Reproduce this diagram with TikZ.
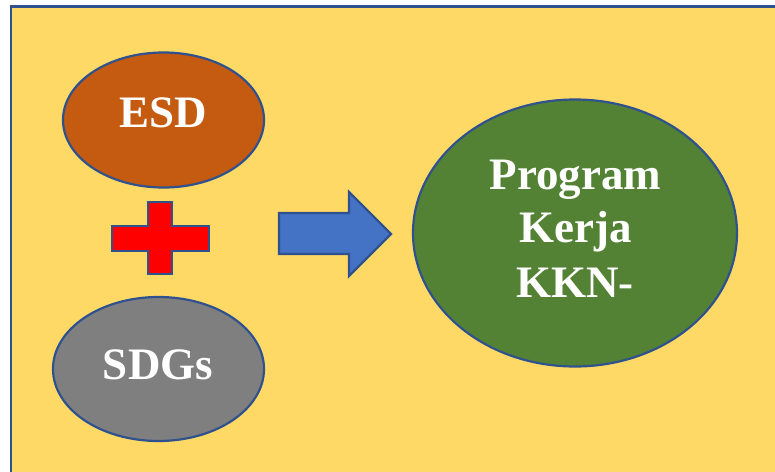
\documentclass[tikz,border=0pt]{standalone}
\usepackage{fontspec}
\setmainfont{Liberation Serif}
\usetikzlibrary{shapes.geometric}
\definecolor{bgyellow}{HTML}{FFD966}
\definecolor{edgeblue}{HTML}{2F528F}
\definecolor{esdorange}{HTML}{C55A11}
\definecolor{sdggray}{HTML}{7F7F7F}
\definecolor{proggreen}{HTML}{548235}
\definecolor{arrowblue}{HTML}{4472C4}
\definecolor{plusred}{HTML}{FF0000}
\tikzset{
  blob/.style={ellipse, draw=edgeblue, line width=2.2pt, inner sep=0pt},
  lbl/.style={text=white, font=\fontsize{45}{52}\selectfont\bfseries, anchor=base, inner sep=0pt},
  shapeline/.style={draw=edgeblue, line width=2.2pt, line join=miter}
}
\begin{document}
\begin{tikzpicture}[x=1pt, y=-1pt]
\clip (0,0) rectangle (775,471);
\fill[white] (0,0) rectangle (775,471);
% frame
\fill[bgyellow] (11,6.7) rectangle (800,500);
\draw[edgeblue, line width=2.8pt] (11,500) -- (11,6.7) -- (800,6.7);
% ellipses
\node[blob, fill=esdorange, minimum width=201pt, minimum height=135pt] (esd) at (163.5,120) {};
\node[blob, fill=sdggray, minimum width=211pt, minimum height=144pt] (sdg) at (158.5,369) {};
\node[blob, fill=proggreen, minimum width=324pt, minimum height=267pt] (prog) at (575,233) {};
% labels
\node[lbl] (esdt) at (163.5,127.5) {ESD};
\node[lbl] (sdgt) at (158,379.5) {SDGs};
\node[lbl] (p1) at (575.5,189.5) {Program};
\node[lbl] (p2) at (575.5,242.5) {Kerja};
\node[lbl] (p3) at (575,297.5) {KKN-};
% plus sign
\draw[shapeline, fill=plusred] (148,202) -- (172,202) -- (172,226) -- (209,226) -- (209,251)
  -- (172,251) -- (172,274) -- (148,274) -- (148,251) -- (112,251) -- (112,226) -- (148,226) -- cycle;
% block arrow
\draw[shapeline, fill=arrowblue] (279,213) -- (349,213) -- (349,192) -- (391,234) -- (349,276)
  -- (349,254) -- (279,254) -- cycle;
\end{tikzpicture}
\end{document}
